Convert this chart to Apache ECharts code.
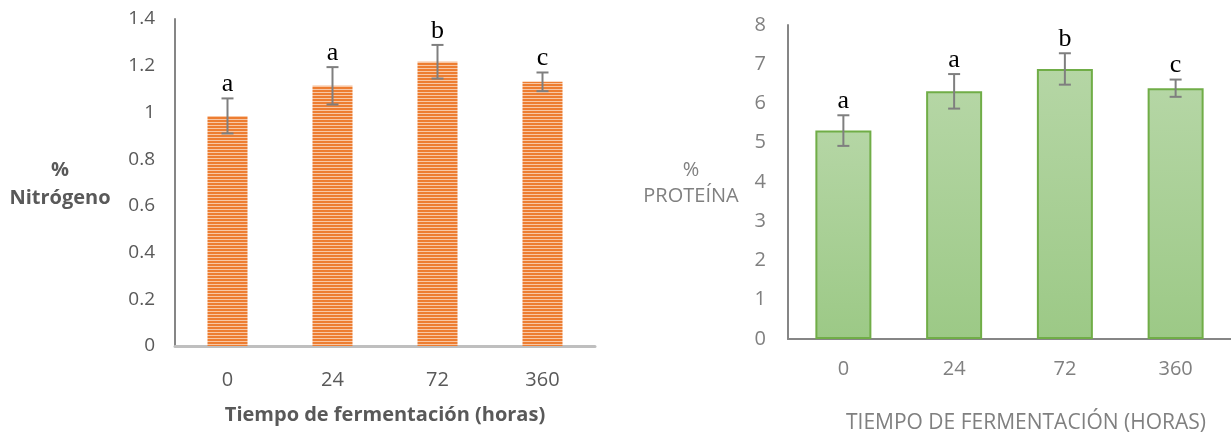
<!DOCTYPE html>
<html>
<head>
<meta charset="utf-8">
<script src="https://cdn.jsdelivr.net/npm/echarts@6/dist/echarts.min.js"></script>
<style>
  html, body { margin: 0; padding: 0; background: #ffffff; }
  #chart { width: 1231px; height: 436px; }
</style>
</head>
<body>
<div id="chart"></div>
<script>
var categories = ['0', '24', '72', '360'];

var nitrogen = [0.985, 1.114, 1.217, 1.131];
var nitrogenErr = [0.075, 0.08, 0.072, 0.04];
var nitrogenLetters = ['a', 'a', 'b', 'c'];
var nitrogenTicks = { min: 0, max: 1.4, interval: 0.2 };

var protein = [5.31, 6.31, 6.88, 6.39];
var proteinErr = [0.39, 0.44, 0.40, 0.22];
var proteinLetters = ['a', 'a', 'b', 'c'];
var proteinTicks = { min: 0, max: 8, interval: 1 };

var FONT = '"Open Sans", "Noto Sans", sans-serif';

// horizontal stripe fill for the orange bars
function stripePattern() {
    var c = document.createElement('canvas');
    c.width = 4;
    c.height = 3;
    var ctx = c.getContext('2d');
    ctx.fillStyle = '#ED7D31';
    ctx.fillRect(0, 0, 4, 2);
    ctx.fillStyle = '#F8C7A4';
    ctx.fillRect(0, 2, 4, 1);
    return { image: c, repeat: 'repeat' };
}

function errorData(values, errs) {
    var out = [];
    for (var i = 0; i < values.length; i++) {
        out.push([i, values[i], errs[i]]);
    }
    return out;
}

function errorRender(letters) {
    return function (params, api) {
        var i = params.dataIndex;
        var v = api.value(1), e = api.value(2);
        var hi = api.coord([i, v + e]);
        var lo = api.coord([i, v - e]);
        var half = 6;
        var stroke = { stroke: '#7f7f7f', lineWidth: 2 };
        return {
            type: 'group',
            children: [
                { type: 'line', shape: { x1: hi[0], y1: hi[1], x2: lo[0], y2: lo[1] }, style: stroke },
                { type: 'line', shape: { x1: hi[0] - half, y1: hi[1], x2: hi[0] + half, y2: hi[1] }, style: stroke },
                { type: 'line', shape: { x1: lo[0] - half, y1: lo[1], x2: lo[0] + half, y2: lo[1] }, style: stroke },
                {
                    type: 'text',
                    x: hi[0],
                    y: hi[1] - 1,
                    style: {
                        text: letters[i],
                        fill: '#000000',
                        font: '26px "Liberation Serif", serif',
                        align: 'center',
                        verticalAlign: 'bottom'
                    }
                }
            ]
        };
    };
}

var chart = echarts.init(document.getElementById('chart'));

var option = {
    backgroundColor: '#ffffff',
    animation: false,
    grid: [
        { left: 175, top: 19, width: 420, height: 327 },
        { left: 788, top: 25, width: 443, height: 314 }
    ],
    xAxis: [
        {
            gridIndex: 0,
            type: 'category',
            data: categories,
            axisLine: { lineStyle: { color: '#bfbfbf', width: 3 } },
            axisTick: { show: false },
            axisLabel: { color: '#595959', fontSize: 20, fontFamily: FONT, margin: 24 }
        },
        {
            gridIndex: 1,
            type: 'category',
            data: categories,
            axisLine: { lineStyle: { color: '#868686', width: 2 } },
            axisTick: { show: false },
            axisLabel: { color: '#808080', fontSize: 20, fontFamily: FONT, margin: 20 }
        }
    ],
    yAxis: [
        {
            gridIndex: 0,
            type: 'value',
            min: nitrogenTicks.min,
            max: nitrogenTicks.max,
            interval: nitrogenTicks.interval,
            axisLine: { show: true, lineStyle: { color: '#868686', width: 2 } },
            axisTick: { show: false },
            splitLine: { show: false },
            axisLabel: { color: '#595959', fontSize: 19, fontFamily: FONT, margin: 20 }
        },
        {
            gridIndex: 1,
            type: 'value',
            min: proteinTicks.min,
            max: proteinTicks.max,
            interval: proteinTicks.interval,
            axisLine: { show: true, lineStyle: { color: '#868686', width: 2 } },
            axisTick: { show: false },
            splitLine: { show: false },
            axisLabel: { color: '#808080', fontSize: 20, fontFamily: FONT, margin: 22 }
        }
    ],
    series: [
        {
            type: 'bar',
            xAxisIndex: 0,
            yAxisIndex: 0,
            data: nitrogen,
            barWidth: 40,
            itemStyle: { color: stripePattern() }
        },
        {
            type: 'custom',
            xAxisIndex: 0,
            yAxisIndex: 0,
            data: errorData(nitrogen, nitrogenErr),
            encode: { x: 0, y: 1 },
            renderItem: errorRender(nitrogenLetters),
            z: 5
        },
        {
            type: 'bar',
            xAxisIndex: 1,
            yAxisIndex: 1,
            data: protein,
            barWidth: 56,
            itemStyle: {
                color: new echarts.graphic.LinearGradient(0, 0, 0, 1, [
                    { offset: 0, color: '#b5d6a5' },
                    { offset: 1, color: '#9cc986' }
                ]),
                borderColor: '#70ad47',
                borderWidth: 2
            }
        },
        {
            type: 'custom',
            xAxisIndex: 1,
            yAxisIndex: 1,
            data: errorData(protein, proteinErr),
            encode: { x: 0, y: 1 },
            renderItem: errorRender(proteinLetters),
            z: 5
        }
    ],
    graphic: [
        {
            type: 'text', x: 60, y: 170,
            style: { text: '%', fill: '#595959', font: 'bold 20px ' + FONT, align: 'center', verticalAlign: 'middle' }
        },
        {
            type: 'text', x: 60, y: 198,
            style: { text: 'Nitrógeno', fill: '#595959', font: 'bold 20px ' + FONT, align: 'center', verticalAlign: 'middle' }
        },
        {
            type: 'text', x: 385, y: 415,
            style: { text: 'Tiempo de fermentación (horas)', fill: '#595959', font: 'bold 20px ' + FONT, align: 'center', verticalAlign: 'middle' }
        },
        {
            type: 'text', x: 691, y: 170,
            style: { text: '%', fill: '#808080', font: '20px ' + FONT, align: 'center', verticalAlign: 'middle' }
        },
        {
            type: 'text', x: 691, y: 196,
            style: { text: 'PROTEÍNA', fill: '#808080', font: '20px ' + FONT, align: 'center', verticalAlign: 'middle' }
        },
        {
            type: 'text', x: 1026, y: 423,
            style: { text: 'TIEMPO DE FERMENTACIÓN (HORAS)', fill: '#808080', font: '21px ' + FONT, align: 'center', verticalAlign: 'middle' }
        }
    ]
};

chart.setOption(option);
</script>
</body>
</html>
